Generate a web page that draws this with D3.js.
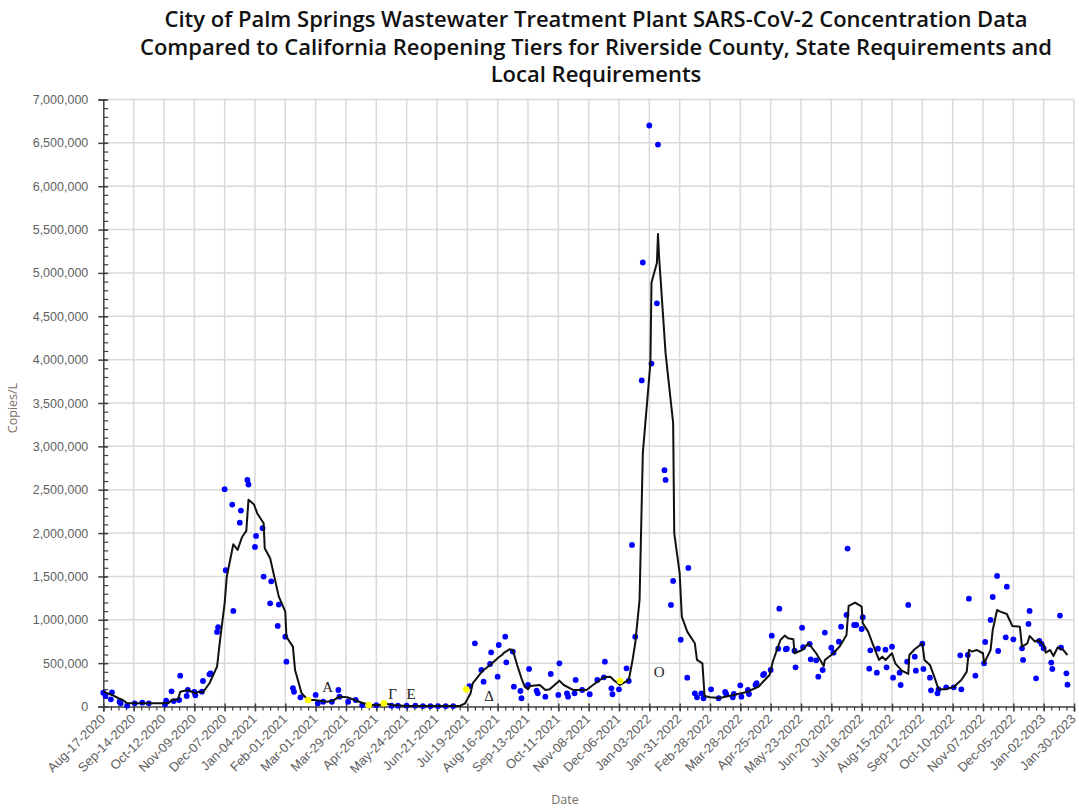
<!DOCTYPE html>
<html>
<head>
<meta charset="utf-8">
<script src="https://cdn.jsdelivr.net/npm/d3@7"></script>
<style>
    body { margin: 0; background: #fff; }
    svg { display: block; font-family: "Open Sans", sans-serif; }
</style>
</head>
<body>
<div id="chart"></div>
<script>

/* Chart titles */
var titleLines = [
    "City of Palm Springs Wastewater Treatment Plant SARS-CoV-2 Concentration Data",
    "Compared to California Reopening Tiers for Riverside County, State Requirements and",
    "Local Requirements"
];
var yTitle = "Copies/L";
var xTitle = "Date";

/* Axis tick labels */
var xTickLabels = ["Aug-17-2020","Sep-14-2020","Oct-12-2020","Nov-09-2020","Dec-07-2020","Jan-04-2021",
    "Feb-01-2021","Mar-01-2021","Mar-29-2021","Apr-26-2021","May-24-2021","Jun-21-2021","Jul-19-2021",
    "Aug-16-2021","Sep-13-2021","Oct-11-2021","Nov-08-2021","Dec-06-2021","Jan-03-2022","Jan-31-2022",
    "Feb-28-2022","Mar-28-2022","Apr-25-2022","May-23-2022","Jun-20-2022","Jul-18-2022","Aug-15-2022",
    "Sep-12-2022","Oct-10-2022","Nov-07-2022","Dec-05-2022","Jan-02-2023","Jan-30-2023"];
var yTickValues = [0,500000,1000000,1500000,2000000,2500000,3000000,3500000,4000000,4500000,
    5000000,5500000,6000000,6500000,7000000];

/* Individual samples (blue dots) */
var sampleDates = ["2020-08-17","2020-08-19","2020-08-24","2020-08-25","2020-09-01","2020-09-02","2020-09-08",
    "2020-09-15","2020-09-22","2020-09-28","2020-10-13","2020-10-14","2020-10-19","2020-10-21","2020-10-26",
    "2020-10-27","2020-11-02","2020-11-03","2020-11-09","2020-11-10","2020-11-16","2020-11-17","2020-11-23",
    "2020-11-24","2020-11-30","2020-12-01","2020-12-07","2020-12-08","2020-12-14","2020-12-15","2020-12-21",
    "2020-12-22","2020-12-28","2020-12-29","2021-01-04","2021-01-05","2021-01-11","2021-01-12","2021-01-18",
    "2021-01-19","2021-01-25","2021-01-26","2021-02-01","2021-02-02","2021-02-08","2021-02-09","2021-02-15",
    "2021-03-01","2021-03-03","2021-03-08","2021-03-16","2021-03-22","2021-03-23","2021-03-31","2021-04-07",
    "2021-04-13","2021-04-26","2021-05-10","2021-05-16","2021-05-24","2021-06-01","2021-06-08","2021-06-15",
    "2021-06-22","2021-06-29","2021-07-06","2021-07-21","2021-07-26","2021-08-01","2021-08-03","2021-08-09",
    "2021-08-10","2021-08-16","2021-08-17","2021-08-23","2021-08-24","2021-08-30","2021-08-31","2021-09-06",
    "2021-09-07","2021-09-13","2021-09-14","2021-09-21","2021-09-22","2021-09-29","2021-10-04","2021-10-11",
    "2021-10-12","2021-10-19","2021-10-20","2021-10-26","2021-10-27","2021-11-02","2021-11-09","2021-11-16",
    "2021-11-22","2021-11-23","2021-11-29","2021-11-30","2021-12-06","2021-12-13","2021-12-15","2021-12-18",
    "2021-12-21","2021-12-27","2021-12-28","2022-01-03","2022-01-05","2022-01-10","2022-01-11","2022-01-17",
    "2022-01-18","2022-01-23","2022-01-25","2022-02-01","2022-02-07","2022-02-08","2022-02-14","2022-02-16",
    "2022-02-20","2022-02-22","2022-03-01","2022-03-08","2022-03-14","2022-03-15","2022-03-21","2022-03-22",
    "2022-03-28","2022-03-29","2022-04-04","2022-04-05","2022-04-11","2022-04-12","2022-04-18","2022-04-19",
    "2022-04-25","2022-04-26","2022-05-02","2022-05-03","2022-05-09","2022-05-10","2022-05-17","2022-05-18",
    "2022-05-24","2022-05-25","2022-05-31","2022-06-01","2022-06-06","2022-06-08","2022-06-12","2022-06-14",
    "2022-06-20","2022-06-22","2022-06-27","2022-06-29","2022-07-04","2022-07-05","2022-07-11","2022-07-13",
    "2022-07-18","2022-07-19","2022-07-25","2022-07-26","2022-08-01","2022-08-02","2022-08-09","2022-08-10",
    "2022-08-15","2022-08-16","2022-08-22","2022-08-23","2022-08-29","2022-08-30","2022-09-05","2022-09-06",
    "2022-09-12","2022-09-13","2022-09-19","2022-09-20","2022-09-26","2022-09-27","2022-10-04","2022-10-11",
    "2022-10-17","2022-10-18","2022-10-24","2022-10-25","2022-10-31","2022-11-08","2022-11-09","2022-11-14",
    "2022-11-16","2022-11-20","2022-11-21","2022-11-28","2022-11-29","2022-12-05","2022-12-13","2022-12-14",
    "2022-12-19","2022-12-20","2022-12-26","2022-12-29","2022-12-31","2023-01-02","2023-01-09","2023-01-10",
    "2023-01-17","2023-01-18","2023-01-23","2023-01-24"];
var sampleCopies = [159000,121000,83000,164000,55000,37000,9000,
    37000,44000,37000,25000,67000,175000,63000,75000,
    355000,121000,190000,167000,129000,171000,294000,371000,
    383000,860000,914000,2506000,1571000,2329000,1102000,2120000,
    2260000,2613000,2560000,1840000,1967000,2056000,1498000,1190000,
    1444000,929000,1175000,805000,517000,213000,170000,106000,
    133000,37000,55000,55000,190000,113000,55000,75000,
    17000,17000,9000,9000,9000,9000,5000,5000,
    5000,5000,5000,236000,729000,421000,286000,490000,
    625000,344000,709000,805000,510000,633000,229000,179000,
    95000,248000,433000,182000,152000,113000,375000,133000,
    498000,152000,113000,152000,306000,190000,141000,306000,
    337000,517000,210000,141000,198000,440000,294000,1863000,
    805000,3760000,5120000,6700000,3955000,4650000,6480000,2725000,
    2613000,1171000,1448000,770000,332000,1598000,152000,106000,
    152000,95000,198000,95000,167000,144000,106000,144000,
    244000,113000,190000,144000,248000,268000,363000,375000,
    421000,817000,667000,1128000,660000,667000,644000,452000,
    909000,683000,721000,544000,533000,344000,421000,852000,
    678000,621000,748000,921000,1056000,1821000,940000,940000,
    894000,1029000,436000,648000,390000,667000,655000,452000,
    690000,332000,390000,248000,517000,1171000,575000,413000,
    725000,433000,332000,187000,152000,198000,221000,221000,
    590000,198000,594000,1244000,355000,498000,744000,998000,
    1263000,1506000,640000,798000,1382000,775000,671000,537000,
    952000,1102000,325000,756000,721000,671000,506000,433000,
    1048000,679000,383000,252000];

/* Samples marked in yellow */
var markedDates = ["2021-02-22","2021-04-19","2021-05-03","2021-07-18","2021-12-07"];
var markedCopies = [75000,17000,37000,198000,294000];

/* Moving average (black line) */
var avgDates = ["2020-08-17","2020-08-25","2020-08-31","2020-09-04","2020-09-08","2020-10-05","2020-10-16",
    "2020-10-19","2020-10-25","2020-10-27","2020-11-03","2020-11-10","2020-11-13","2020-11-17","2020-11-23",
    "2020-11-30","2020-12-03","2020-12-07","2020-12-09","2020-12-15","2020-12-19","2020-12-23","2020-12-27",
    "2020-12-29","2021-01-03","2021-01-06","2021-01-12","2021-01-13","2021-01-18","2021-01-26","2021-02-01",
    "2021-02-02","2021-02-08","2021-02-10","2021-02-16","2021-02-22","2021-02-28","2021-03-11","2021-03-17",
    "2021-03-23","2021-03-30","2021-04-06","2021-04-14","2021-04-22","2021-04-29","2021-05-04","2021-05-10",
    "2021-05-24","2021-07-12","2021-07-17","2021-07-22","2021-07-24","2021-08-02","2021-08-09","2021-08-17",
    "2021-08-20","2021-08-22","2021-08-27","2021-08-30","2021-09-03","2021-09-07","2021-09-10","2021-09-13",
    "2021-09-15","2021-09-24","2021-09-29","2021-10-03","2021-10-12","2021-10-16","2021-10-25","2021-11-06",
    "2021-11-12","2021-11-22","2021-11-28","2021-12-01","2021-12-07","2021-12-15","2021-12-18","2021-12-21",
    "2021-12-25","2021-12-28","2022-01-04","2022-01-05","2022-01-10","2022-01-11","2022-01-12","2022-01-18",
    "2022-01-25","2022-01-26","2022-01-31","2022-02-02","2022-02-07","2022-02-14","2022-02-16","2022-02-21",
    "2022-02-23","2022-02-28","2022-03-09","2022-04-03","2022-04-14","2022-04-18","2022-04-24","2022-04-27",
    "2022-05-04","2022-05-08","2022-05-11","2022-05-16","2022-05-17","2022-05-24","2022-05-30","2022-06-06",
    "2022-06-13","2022-06-14","2022-06-22","2022-06-28","2022-07-04","2022-07-06","2022-07-12","2022-07-18",
    "2022-07-19","2022-07-24","2022-07-28","2022-08-03","2022-08-06","2022-08-09","2022-08-15","2022-08-18",
    "2022-08-24","2022-08-30","2022-08-31","2022-09-05","2022-09-12","2022-09-14","2022-09-19","2022-09-23",
    "2022-09-27","2022-10-03","2022-10-11","2022-10-18","2022-10-23","2022-10-25","2022-10-28","2022-11-01",
    "2022-11-07","2022-11-08","2022-11-14","2022-11-16","2022-11-20","2022-11-23","2022-11-29","2022-12-04",
    "2022-12-11","2022-12-13","2022-12-18","2022-12-20","2022-12-25","2022-12-28","2023-01-02","2023-01-04",
    "2023-01-08","2023-01-11","2023-01-15","2023-01-20","2023-01-24"];
var avgCopies = [171000,133000,95000,75000,37000,37000,37000,
    75000,83000,171000,190000,152000,171000,164000,268000,
    460000,790000,1190000,1500000,1871000,1806000,1952000,2025000,
    2383000,2333000,2229000,2114000,1825000,1710000,1267000,1094000,
    805000,690000,421000,152000,75000,75000,55000,67000,
    113000,106000,75000,37000,17000,17000,37000,17000,
    6000,6000,37000,152000,268000,410000,479000,568000,
    594000,621000,660000,652000,479000,325000,229000,198000,
    236000,248000,190000,198000,298000,248000,190000,190000,
    248000,337000,344000,306000,248000,306000,498000,729000,
    1229000,2921000,3960000,4890000,5114000,5448000,5190000,4075000,
    3268000,2000000,1537000,1036000,863000,729000,537000,498000,
    121000,106000,98000,167000,229000,286000,363000,517000,
    767000,817000,787000,775000,614000,652000,729000,614000,
    467000,537000,614000,698000,825000,1160000,1198000,1152000,
    960000,863000,729000,537000,575000,537000,614000,498000,
    413000,375000,594000,660000,729000,537000,479000,344000,
    198000,198000,225000,306000,402000,652000,633000,652000,
    614000,498000,652000,883000,1113000,1094000,1067000,929000,
    921000,690000,729000,813000,748000,767000,710000,621000,
    652000,583000,683000,652000,594000];

/* Greek-letter variant annotations */
var variantLabels = ["\u0391","\u0393","\u0395","\u0394","\u039F"];
var variantDates = ["2021-03-12","2021-05-11","2021-05-28","2021-08-08","2022-01-12"];
var variantCopies = [228000,150000,150000,125000,401000];


var width = 1079, svgheight = 808;
var plotLeft = 103.3, plotRight = 1074, plotTop = 99.5, plotBottom = 706.5;

var parseISO = d3.utcParse("%Y-%m-%d");
var parseTick = d3.utcParse("%b-%d-%Y");

var xTicks = xTickLabels.map(parseTick);
var xMinor = d3.utcDay.range(xTicks[0], d3.utcDay.offset(xTicks[xTicks.length - 1], 1), 7);

var x = d3.scaleUtc()
    .domain([xTicks[0], xTicks[xTicks.length - 1]])
    .range([plotLeft, plotRight]);

var y = d3.scaleLinear()
    .domain([0, 7000000])
    .range([plotBottom, plotTop]);

var theSVG = d3.select("#chart")
    .append("svg")
    .attr("width", width)
    .attr("height", svgheight);

/* Title */
theSVG.append("g")
    .attr("class", "title")
    .selectAll("text")
    .data(titleLines)
    .enter().append("text")
    .attr("x", 596)
    .attr("y", function (d, i) { return 27 + i * 27.5; })
    .attr("text-anchor", "middle")
    .style("font-family", "'Open Sans', sans-serif")
    .style("font-weight", 600)
    .style("font-size", "22px")
    .style("fill", "#111")
    .text(function (d) { return d; });

/* Gridlines */
var grid = theSVG.append("g").attr("class", "grid");
grid.selectAll("line.h")
    .data(yTickValues.slice(1))
    .enter().append("line")
    .attr("class", "h")
    .attr("x1", plotLeft).attr("x2", plotRight)
    .attr("y1", function (d) { return y(d); })
    .attr("y2", function (d) { return y(d); })
    .attr("stroke", "#d9d9d9")
    .attr("stroke-width", 1.5);
grid.selectAll("line.v")
    .data(xTicks.slice(1))
    .enter().append("line")
    .attr("class", "v")
    .attr("y1", plotTop).attr("y2", plotBottom)
    .attr("x1", function (d) { return x(d); })
    .attr("x2", function (d) { return x(d); })
    .attr("stroke", "#d9d9d9")
    .attr("stroke-width", 1.5);

/* Y axis: major ticks with labels, minor ticks inside */
var yMinor = d3.range(0, 7000001, 100000);
theSVG.append("g")
    .attr("transform", "translate(" + plotLeft + ",0)")
    .call(d3.axisRight(y).tickValues(yMinor).tickSize(5).tickFormat(""))
    .call(function (g) { g.select(".domain").remove(); })
    .selectAll("line").attr("stroke", "#404040").attr("stroke-width", 1.2);

var yAxis = theSVG.append("g")
    .attr("transform", "translate(" + plotLeft + ",0)")
    .call(d3.axisLeft(y).tickValues(yTickValues).tickSize(5).tickPadding(10).tickFormat(d3.format(",")));
yAxis.select(".domain").attr("stroke", "#404040").attr("stroke-width", 1.5);
yAxis.selectAll(".tick line").attr("stroke", "#404040").attr("stroke-width", 1.5).attr("x2", -5).attr("x1", 4);
yAxis.selectAll(".tick text")
    .style("font-size", "12.5px")
    .style("fill", "#5f5f5f");

/* X axis: minor weekly ticks, major four-weekly ticks with rotated labels */
theSVG.append("g")
    .attr("transform", "translate(0," + plotBottom + ")")
    .call(d3.axisBottom(x).tickValues(xMinor).tickSize(4).tickFormat(""))
    .call(function (g) { g.select(".domain").remove(); })
    .selectAll("line").attr("stroke", "#404040").attr("stroke-width", 1.2);

var xAxis = theSVG.append("g")
    .attr("transform", "translate(0," + plotBottom + ")")
    .call(d3.axisBottom(x).tickValues(xTicks).tickSize(5)
        .tickFormat(function (d, i) { return xTickLabels[i]; }));
xAxis.select(".domain").attr("stroke", "#404040").attr("stroke-width", 1.5);
xAxis.selectAll(".tick line").attr("stroke", "#404040").attr("stroke-width", 1.5).attr("y1", -3);
xAxis.selectAll(".tick text")
    .attr("x", 0).attr("y", 0).attr("dy", "0.35em")
    .attr("transform", "translate(-1,10) rotate(-45)")
    .attr("text-anchor", "end")
    .style("font-size", "13px")
    .style("fill", "#5f5f5f");

/* Axis titles */
theSVG.append("text")
    .attr("transform", "translate(17,408) rotate(-90)")
    .attr("text-anchor", "middle")
    .style("font-size", "12.5px")
    .style("fill", "#7a7068")
    .text(yTitle);

theSVG.append("text")
    .attr("x", 565).attr("y", 804)
    .attr("text-anchor", "middle")
    .style("font-size", "12.5px")
    .style("fill", "#7a7068")
    .text(xTitle);

/* Sample dots */
var samples = sampleDates.map(function (d, i) { return { date: parseISO(d), v: sampleCopies[i] }; });
theSVG.append("g")
    .selectAll("circle")
    .data(samples)
    .enter().append("circle")
    .attr("cx", function (d) { return x(d.date); })
    .attr("cy", function (d) { return y(d.v); })
    .attr("r", 2.9)
    .attr("fill", "#0000ff");

/* Moving average line */
var avg = avgDates.map(function (d, i) { return { date: parseISO(d), v: avgCopies[i] }; });
theSVG.append("path")
    .datum(avg)
    .attr("fill", "none")
    .attr("stroke", "#111")
    .attr("stroke-width", 2)
    .attr("stroke-linejoin", "round")
    .attr("d", d3.line()
        .x(function (d) { return x(d.date); })
        .y(function (d) { return y(d.v); }));

/* Marked (yellow) samples */
var marked = markedDates.map(function (d, i) { return { date: parseISO(d), v: markedCopies[i] }; });
theSVG.append("g")
    .selectAll("circle")
    .data(marked)
    .enter().append("circle")
    .attr("cx", function (d) { return x(d.date); })
    .attr("cy", function (d) { return y(d.v); })
    .attr("r", 3.3)
    .attr("fill", "#ffff00");

/* Variant letters */
theSVG.append("g")
    .selectAll("text")
    .data(variantLabels)
    .enter().append("text")
    .attr("x", function (d, i) { return x(parseISO(variantDates[i])); })
    .attr("y", function (d, i) { return y(variantCopies[i]); })
    .attr("text-anchor", "middle")
    .attr("dy", "0.35em")
    .style("font-family", "'Liberation Serif', serif")
    .style("font-size", "15px")
    .style("fill", "#222")
    .text(function (d) { return d; });

</script>
</body>
</html>
